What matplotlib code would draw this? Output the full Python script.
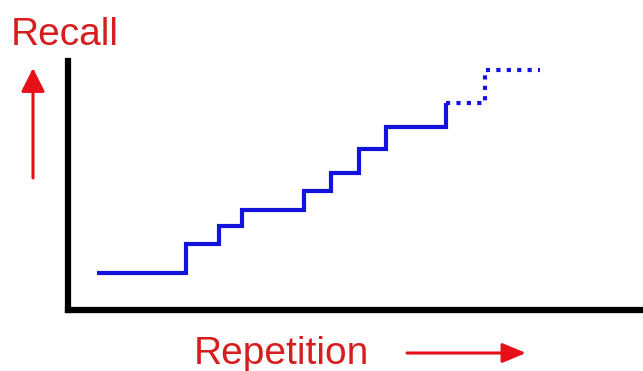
import matplotlib
matplotlib.use("Agg")
import matplotlib.pyplot as plt

# Data (step chart: repetition vs recall, in arbitrary units)
rep_solid = [29, 118, 151, 174, 236, 263, 291, 318, 378]
recall_solid = [37, 66, 84, 100, 119, 137, 161, 183, 207]
rep_dotted = [378, 417, 472]
recall_dotted = [207, 240, 240]
x_label = "Repetition"
y_label = "Recall"

W, H = 643, 371
fig = plt.figure(figsize=(W / 100, H / 100), dpi=100)
ax = fig.add_axes([68 / W, (H - 310) / H, (W - 68) / W, (310 - 61) / H])
ax.set_xlim(0, 575)
ax.set_ylim(0, 249)

blue = "#1212dc"
ax.step(rep_solid, recall_solid, where="post", color=blue, lw=3.0,
        solid_capstyle="butt", solid_joinstyle="miter")
ax.step(rep_dotted, recall_dotted, where="post", color=blue, lw=3.0,
        linestyle=(0, (1, 1.5)), dash_capstyle="butt")

for s in ["top", "right"]:
    ax.spines[s].set_visible(False)
for s in ["left", "bottom"]:
    ax.spines[s].set_linewidth(4.5)
    ax.spines[s].set_color("black")
    ax.spines[s].set_capstyle("projecting")
ax.set_xticks([])
ax.set_yticks([])
ax.patch.set_visible(False)

red_text = "#d61e1e"
red_arrow = "#e81018"
fig.text(11 / W, 1 - 45 / H, y_label, color=red_text, fontsize=28,
         family="Liberation Sans", va="baseline", ha="left")
fig.text(194 / W, 1 - 364 / H, x_label, color=red_text, fontsize=28,
         family="Liberation Sans", va="baseline", ha="left")

ax.annotate("", xy=(33, H - 68), xytext=(33, H - 178),
            xycoords="figure pixels", textcoords="figure pixels",
            arrowprops=dict(arrowstyle="-|>,head_length=0.72,head_width=0.36",
                            mutation_scale=20, color=red_arrow, lw=2.2,
                            shrinkA=0, shrinkB=0))
ax.annotate("", xy=(526, H - 353), xytext=(407, H - 353),
            xycoords="figure pixels", textcoords="figure pixels",
            arrowprops=dict(arrowstyle="-|>,head_length=0.72,head_width=0.3",
                            mutation_scale=20, color=red_arrow, lw=2.2,
                            shrinkA=0, shrinkB=0))

fig.savefig("out.png", dpi=100)
